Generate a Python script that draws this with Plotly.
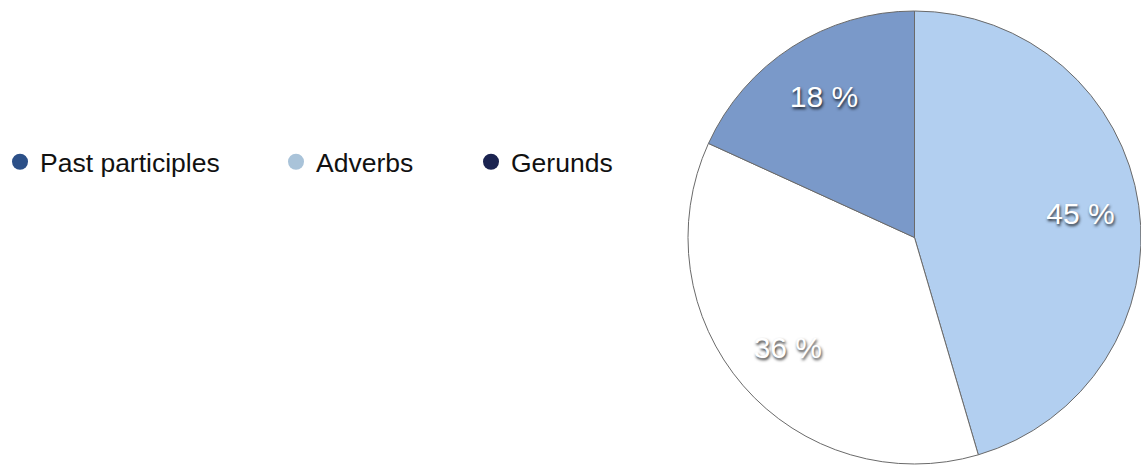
import plotly.graph_objects as go

# Data
slice_labels = ["Adverbs", "Gerunds", "Past participles"]
slice_values = [45, 36, 18]
slice_colors = ["#b2cff0", "#ffffff", "#7a99c9"]

legend_labels = ["Past participles", "Adverbs", "Gerunds"]
legend_colors = ["#2c5088", "#a9c3d9", "#1a2350"]

W, H = 1141, 468
pie_domain = dict(x=[688 / W, 1.0], y=[1 - 464 / H, 1 - 11 / H])

fig = go.Figure()

# filled slices
fig.add_trace(go.Pie(
    labels=slice_labels,
    values=slice_values,
    sort=False,
    direction="clockwise",
    rotation=0,
    marker=dict(colors=slice_colors, line=dict(color="#6a6a6a", width=1)),
    textinfo="none",
    showlegend=False,
    hoverinfo="label+percent",
    domain=pie_domain,
))

# percentage labels (transparent ring so labels sit further out)
fig.add_trace(go.Pie(
    labels=slice_labels,
    values=slice_values,
    sort=False,
    direction="clockwise",
    rotation=0,
    hole=0.48,
    marker=dict(colors=["rgba(0,0,0,0)"] * len(slice_values), line=dict(width=0)),
    texttemplate="%{value} %",
    textposition="inside",
    insidetextorientation="horizontal",
    textfont=dict(family="Liberation Sans, Arial, sans-serif", size=30, color="#ffffff",
                  shadow="1px 2px 3px rgba(0,0,0,0.8)"),
    showlegend=False,
    hoverinfo="skip",
    domain=pie_domain,
))

legend_x = [0.0, 276 / W, 471 / W]
for i, (lab, col) in enumerate(zip(legend_labels, legend_colors)):
    lname = "legend" if i == 0 else f"legend{i+1}"
    fig.add_trace(go.Scatter(
        x=[None], y=[None], mode="markers", name=lab,
        marker=dict(symbol="circle", size=18, color=col),
        legend=lname, showlegend=True,
    ))

legend_common = dict(
    orientation="h", yanchor="middle", xanchor="left", itemsizing="trace",
    font=dict(family="Liberation Sans, Arial, sans-serif", size=26.5, color="#111111"),
    bgcolor="rgba(0,0,0,0)",
)
fig.update_layout(
    width=W, height=H,
    margin=dict(l=0, r=0, t=0, b=0),
    paper_bgcolor="#ffffff", plot_bgcolor="#ffffff",
    xaxis=dict(visible=False), yaxis=dict(visible=False),
    legend=dict(x=legend_x[0], y=1 - 162 / H, **legend_common),
    legend2=dict(x=legend_x[1], y=1 - 162 / H, **legend_common),
    legend3=dict(x=legend_x[2], y=1 - 162 / H, **legend_common),
)

fig.write_html("out.html")
